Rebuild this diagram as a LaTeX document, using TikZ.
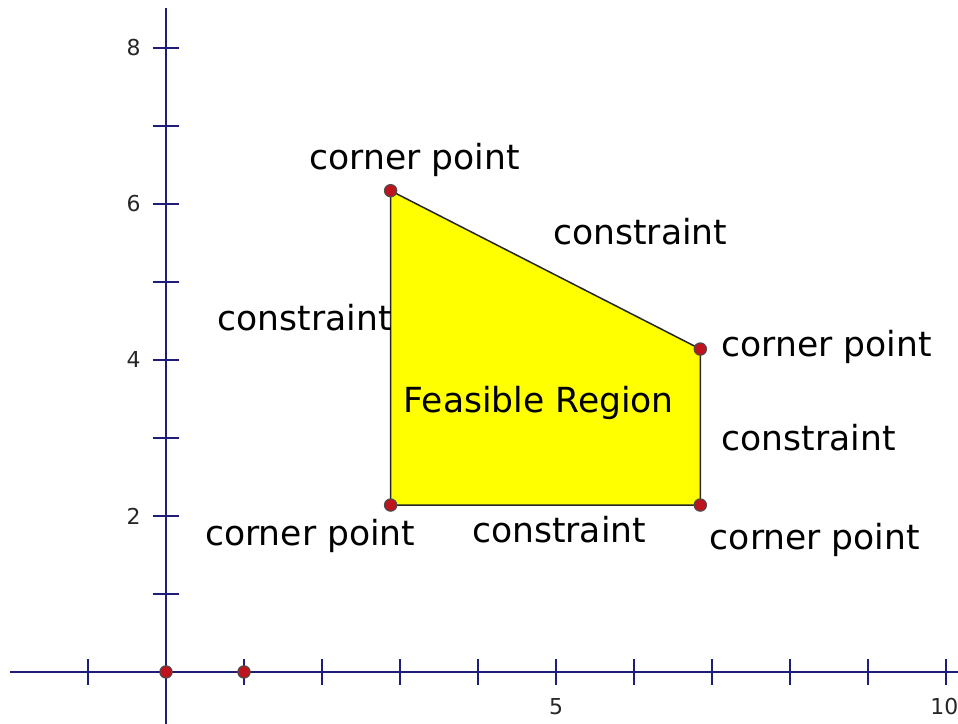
\documentclass[tikz,border=0pt]{standalone}
\usepackage{fontspec}
\setmainfont{DejaVu Sans}
\definecolor{axisblue}{RGB}{30,30,120}
\definecolor{dotred}{RGB}{190,20,30}
\definecolor{regionyellow}{RGB}{255,255,0}
\begin{document}
\begin{tikzpicture}[x=1cm,y=1cm,font=\fontsize{12.6}{14}\selectfont,
  axisline/.style={draw=axisblue,line width=1pt},
  tickline/.style={draw=axisblue,line width=.9pt},
  ticklabel/.style={font=\fontsize{8}{9}\selectfont,text=black!85},
  cornerdot/.style={circle,fill=dotred,draw=black!70,line width=.4pt,inner sep=0pt,minimum size=4.5pt},
  boxlabel/.style={inner sep=0pt}]
  \useasboundingbox (-2.128,-0.667) rectangle (10.154,8.615);

  % axes
  \draw[axisline] (-2.0,0) -- (10.154,0);
  \draw[axisline] (0,-0.667) -- (0,8.51);
  \foreach \x in {-1,1,2,...,10} {
    \draw[tickline] (\x,-0.17) -- (\x,0.17);
  }
  \foreach \y in {1,2,...,8} {
    \draw[tickline] (-0.17,\y) -- (0.17,\y);
  }
  \foreach \y in {2,4,6,8} {
    \node[ticklabel,anchor=east] (ylab\y) at (-0.2,\y) {\y};
  }
  \node[ticklabel] (xlab5) at (5.0,-0.44) {5};
  \node[ticklabel] (xlab10) at (9.98,-0.44) {10};

  % feasible region
  \coordinate (ctl) at (2.88,6.17);
  \coordinate (ctr) at (6.85,4.14);
  \coordinate (cbr) at (6.85,2.14);
  \coordinate (cbl) at (2.88,2.14);
  \filldraw[fill=regionyellow,draw=black!85,line width=.55pt]
    (ctl) -- (ctr) -- (cbr) -- (cbl) -- cycle;

  \node[cornerdot] (ptl) at (ctl) {};
  \node[cornerdot] (ptr) at (ctr) {};
  \node[cornerdot] (pbr) at (cbr) {};
  \node[cornerdot] (pbl) at (cbl) {};
  \node[cornerdot] (porigin) at (0,0) {};
  \node[cornerdot] (pone) at (1,0) {};

  % labels
  \node[boxlabel] (lcptl) at (3.19,6.56) {corner point};
  \node[boxlabel] (lcptr) at (8.47,4.17) {corner point};
  \node[boxlabel] (lcpbl) at (1.85,1.74) {corner point};
  \node[boxlabel] (lcpbr) at (8.32,1.69) {corner point};
  \node[boxlabel] (lctop) at (6.08,5.64) {constraint};
  \node[boxlabel] (lcleft) at (1.78,4.54) {constraint};
  \node[boxlabel] (lcright) at (8.24,3.00) {constraint};
  \node[boxlabel] (lcbottom) at (5.04,1.82) {constraint};
  \node[boxlabel] (lregion) at (4.78,3.45) {Feasible Region};
\end{tikzpicture}
\end{document}
